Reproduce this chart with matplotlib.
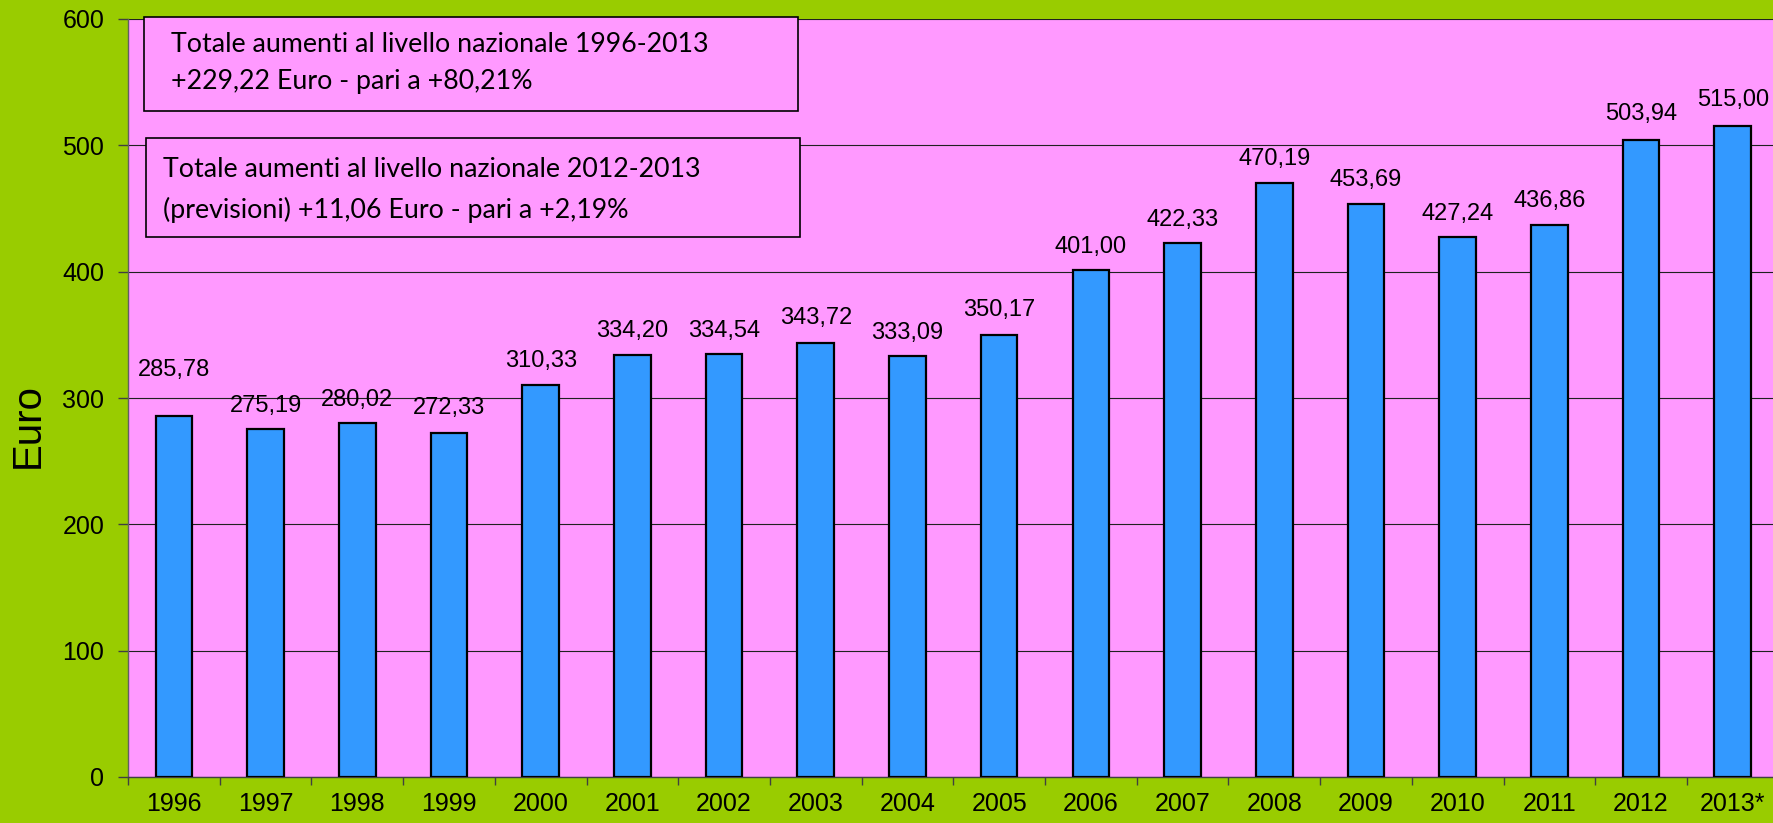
import matplotlib
matplotlib.use("Agg")
import matplotlib.pyplot as plt
from matplotlib.patches import Rectangle

years = ["1996", "1997", "1998", "1999", "2000", "2001", "2002", "2003", "2004",
         "2005", "2006", "2007", "2008", "2009", "2010", "2011", "2012", "2013*"]
values = [285.78, 275.19, 280.02, 272.33, 310.33, 334.20, 334.54, 343.72, 333.09,
          350.17, 401.00, 422.33, 470.19, 453.69, 427.24, 436.86, 503.94, 515.00]
value_labels = ["285,78", "275,19", "280,02", "272,33", "310,33", "334,20", "334,54",
                "343,72", "333,09", "350,17", "401,00", "422,33", "470,19", "453,69",
                "427,24", "436,86", "503,94", "515,00"]
yticks = [0, 100, 200, 300, 400, 500, 600]
box1_lines = ["Totale aumenti al livello nazionale 1996-2013",
              "+229,22 Euro - pari a +80,21%"]
box2_lines = ["Totale aumenti al livello nazionale 2012-2013",
              "(previsioni) +11,06 Euro - pari a +2,19%"]

# label vertical offsets (points)
label_offsets = [33, 17, 17, 18, 17, 17, 17, 18, 17, 18, 17, 17, 17, 17, 17, 17, 19, 19]

GREEN = "#99CC00"
PINK = "#FF99FF"
BLUE = "#3399FF"

fig = plt.figure(figsize=(17.73, 8.23), dpi=100, facecolor=GREEN)
ax = fig.add_axes([128/1773, 46/823, 18*91.7/1773, 758/823])
ax.set_facecolor(PINK)

x = list(range(len(years)))
ax.bar(x, values, width=0.4, color=BLUE, edgecolor="black", linewidth=1.6, zorder=3)

ax.set_xlim(-0.5, len(years) - 0.5)
ax.set_ylim(0, 600)
ax.set_yticks(yticks)
ax.set_yticklabels([str(v) for v in yticks], fontsize=18, family="Liberation Sans")
ax.yaxis.grid(True, color="#202020", linewidth=0.8, zorder=1)
ax.set_axisbelow(True)

ax.set_xticks(x)
ax.set_xticklabels(years, fontsize=18, family="Liberation Sans")
ax.set_xticks([i - 0.5 for i in range(len(years) + 1)], minor=True)
ax.tick_params(axis="x", which="major", length=0, pad=11)
ax.tick_params(axis="x", which="minor", length=6, width=1, color="#404040")
ax.tick_params(axis="y", which="major", length=7, width=1, color="#404040", pad=10)

for s in ["top", "right"]:
    ax.spines[s].set_visible(False)
ax.spines["left"].set_color("#606060")
ax.spines["bottom"].set_color("#404040")
ax.spines["left"].set_linewidth(1)
ax.spines["bottom"].set_linewidth(1)

for xi, v, lab, off in zip(x, values, value_labels, label_offsets):
    ax.annotate(lab, (xi, v), xytext=(0, off), textcoords="offset points",
                ha="center", va="center", fontsize=17, family="Liberation Sans", zorder=5)

fig.text(28/1773, 1 - 425/823, "Euro", rotation=90, ha="center", va="center",
         fontsize=29, family="Liberation Sans")

# annotation boxes
ax.add_patch(Rectangle((0.0095, 0.879), 0.3965, 0.124, transform=ax.transAxes,
                       facecolor=PINK, edgecolor="black", linewidth=1.2, zorder=6,
                       clip_on=False))
ax.add_patch(Rectangle((0.011, 0.712), 0.396, 0.131, transform=ax.transAxes,
                       facecolor=PINK, edgecolor="black", linewidth=1.2, zorder=6,
                       clip_on=False))
ax.text(0.026, 0.966, box1_lines[0], transform=ax.transAxes, ha="left", va="center",
        fontsize=19.3, family="Lato", zorder=7)
ax.text(0.026, 0.917, box1_lines[1], transform=ax.transAxes, ha="left", va="center",
        fontsize=19.3, family="Lato", zorder=7)
ax.text(0.021, 0.801, box2_lines[0], transform=ax.transAxes, ha="left", va="center",
        fontsize=19.3, family="Lato", zorder=7)
ax.text(0.021, 0.748, box2_lines[1], transform=ax.transAxes, ha="left", va="center",
        fontsize=19.3, family="Lato", zorder=7)

fig.savefig("out.png", dpi=100, facecolor=GREEN)
